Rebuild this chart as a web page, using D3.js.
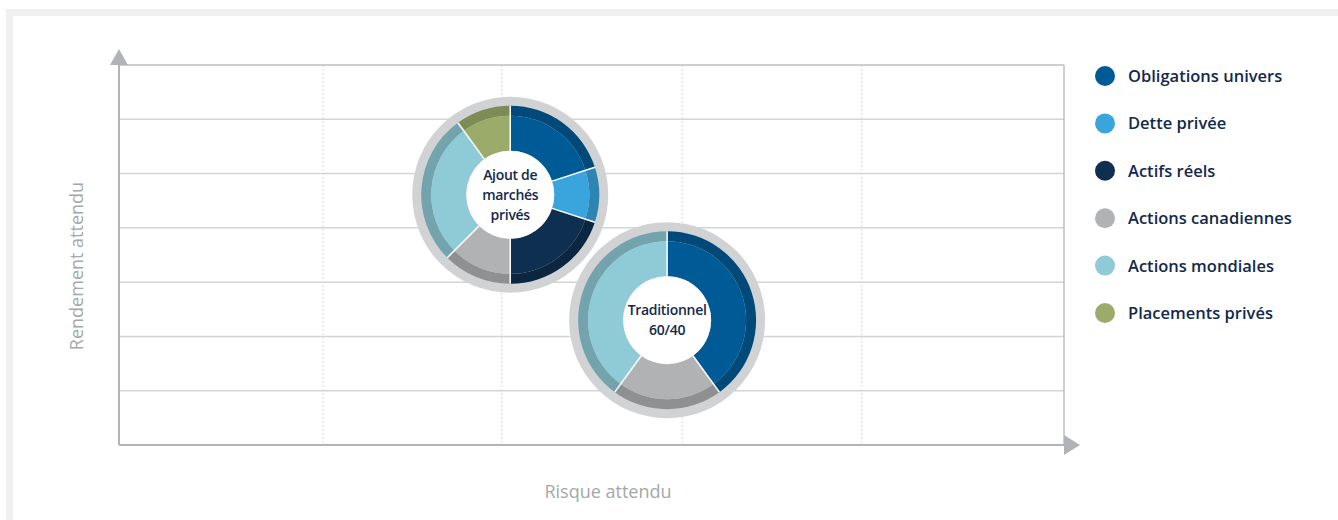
<!DOCTYPE html>
<html>
<head>
<meta charset="utf-8">
<script src="https://cdn.jsdelivr.net/npm/d3@7"></script>
<style>
  body { margin: 0; background: #fff; }
  svg text { font-family: "Open Sans", "Noto Sans", sans-serif; }
</style>
</head>
<body>
<svg id="chart" width="1338" height="520"></svg>
<script>
// categories + colours
const categories = ['Obligations univers', 'Dette privée', 'Actifs réels',
  'Actions canadiennes', 'Actions mondiales', 'Placements privés'];
const colors = ['#005a96', '#3aa5dc', '#0e2f4f', '#b1b2b4', '#8ecbd6', '#9bac6a'];

// portfolio mixes (% of each category, clockwise from top)
const mixPrivate = [20, 10, 20, 12.5, 27.5, 10];
const mixTraditional = [40, 0, 0, 20, 40, 0];

// where each portfolio sits on the risk / return plane
const portfolios = [
  { label: ['Ajout de', 'marchés', 'privés'], risk: 41.4, ret: 4.61, mix: mixPrivate },
  { label: ['Traditionnel', '60/40'], risk: 58.0, ret: 2.30, mix: mixTraditional }
];

// grid
const yGrid = [1, 2, 3, 4, 5, 6];
const xGrid = [21.6, 40.5, 59.6, 78.6];

const svg = d3.select('#chart');

// page frame (grey band top and left)
svg.append('rect').attr('x', 6).attr('y', 9).attr('width', 1332).attr('height', 7).attr('fill', '#efefef');
svg.append('rect').attr('x', 6).attr('y', 9).attr('width', 7).attr('height', 511).attr('fill', '#efefef');

const x = d3.scaleLinear().domain([0, 100]).range([119, 1064]);
const y = d3.scaleLinear().domain([0, 7]).range([445, 65]);

// horizontal grid lines
svg.selectAll('.hgrid')
  .data(yGrid)
  .enter().append('line')
  .attr('class', 'hgrid')
  .attr('x1', x(0)).attr('x2', x(100))
  .attr('y1', d => y(d)).attr('y2', d => y(d))
  .attr('stroke', '#d4d4d4').attr('stroke-width', 1.5);

// dotted verticals
svg.selectAll('.vgrid')
  .data(xGrid)
  .enter().append('line')
  .attr('class', 'vgrid')
  .attr('x1', d => x(d)).attr('x2', d => x(d))
  .attr('y1', y(7)).attr('y2', y(0))
  .attr('stroke', '#dcdcdc').attr('stroke-width', 1)
  .attr('stroke-dasharray', '2,2');

// top and right frame
svg.append('line').attr('x1', x(0)).attr('x2', x(100)).attr('y1', y(7)).attr('y2', y(7))
  .attr('stroke', '#bdbec0').attr('stroke-width', 1.5);
svg.append('line').attr('x1', x(100)).attr('x2', x(100)).attr('y1', y(7)).attr('y2', y(0))
  .attr('stroke', '#bdbec0').attr('stroke-width', 1.5);

// axes with arrows
const axisCol = '#b1b3b6';
svg.append('line').attr('x1', x(0)).attr('x2', x(100)).attr('y1', y(0)).attr('y2', y(0))
  .attr('stroke', axisCol).attr('stroke-width', 2);
svg.append('line').attr('x1', x(0)).attr('x2', x(0)).attr('y1', y(0)).attr('y2', y(7))
  .attr('stroke', axisCol).attr('stroke-width', 2);
svg.append('path')
  .attr('d', `M${x(0) - 9},${y(7)} L${x(0)},${y(7) - 16} L${x(0) + 9},${y(7)} Z`)
  .attr('fill', axisCol);
svg.append('path')
  .attr('d', `M${x(100)},${y(0) - 10} L${x(100) + 16},${y(0)} L${x(100)},${y(0) + 10} Z`)
  .attr('fill', axisCol);

// axis titles
svg.append('text')
  .attr('transform', `translate(83,266) rotate(-90)`)
  .attr('text-anchor', 'middle')
  .attr('font-size', 18).attr('font-weight', 500).attr('fill', '#a5a7aa')
  .text('Rendement attendu');
svg.append('text')
  .attr('x', 608).attr('y', 498)
  .attr('text-anchor', 'middle')
  .attr('font-size', 18).attr('font-weight', 500).attr('fill', '#a5a7aa')
  .text('Risque attendu');

// donuts
const pie = d3.pie().sort(null).value(d => d.v);
const rHole = 44, rInner = 79, rMid = 89, rOuter = 98;
const arcMain = d3.arc().innerRadius(rHole).outerRadius(rInner);
const arcEdge = d3.arc().innerRadius(rInner).outerRadius(rMid);

portfolios.forEach(p => {
  const g = svg.append('g')
    .attr('transform', `translate(${x(p.risk)},${y(p.ret)})`);

  g.append('circle').attr('r', rOuter).attr('fill', '#d1d2d4');

  const slices = pie(p.mix.map((v, i) => ({ v, i })).filter(d => d.v > 0));

  g.selectAll('.edge')
    .data(slices)
    .enter().append('path')
    .attr('d', arcEdge)
    .attr('fill', d => d3.color(colors[d.data.i]).darker(0.6));

  g.selectAll('.main')
    .data(slices)
    .enter().append('path')
    .attr('d', arcMain)
    .attr('fill', d => colors[d.data.i]);

  // white separators
  g.selectAll('.sep')
    .data(slices)
    .enter().append('line')
    .attr('x1', d => rHole * Math.sin(d.startAngle))
    .attr('y1', d => -rHole * Math.cos(d.startAngle))
    .attr('x2', d => rMid * Math.sin(d.startAngle))
    .attr('y2', d => -rMid * Math.cos(d.startAngle))
    .attr('stroke', '#fff').attr('stroke-width', 1.5);

  g.append('circle').attr('r', rHole).attr('fill', '#fff');

  const lh = 20;
  g.selectAll('.lbl')
    .data(p.label)
    .enter().append('text')
    .attr('text-anchor', 'middle')
    .attr('y', (d, i) => (i - (p.label.length - 1) / 2) * lh + 5)
    .attr('font-size', 14).attr('font-weight', 600)
    .attr('letter-spacing', -0.3)
    .attr('fill', '#13294b')
    .text(d => d);
});

// legend
const legend = svg.selectAll('.legend')
  .data(categories)
  .enter().append('g')
  .attr('class', 'legend')
  .attr('transform', (d, i) => `translate(1105,${76 + i * 47.4})`);
legend.append('circle').attr('r', 10).attr('fill', (d, i) => colors[i]);
legend.append('text')
  .attr('x', 23).attr('y', 6)
  .attr('font-size', 16.5).attr('font-weight', 600)
  .attr('fill', '#13294b')
  .text(d => d);
</script>
</body>
</html>
